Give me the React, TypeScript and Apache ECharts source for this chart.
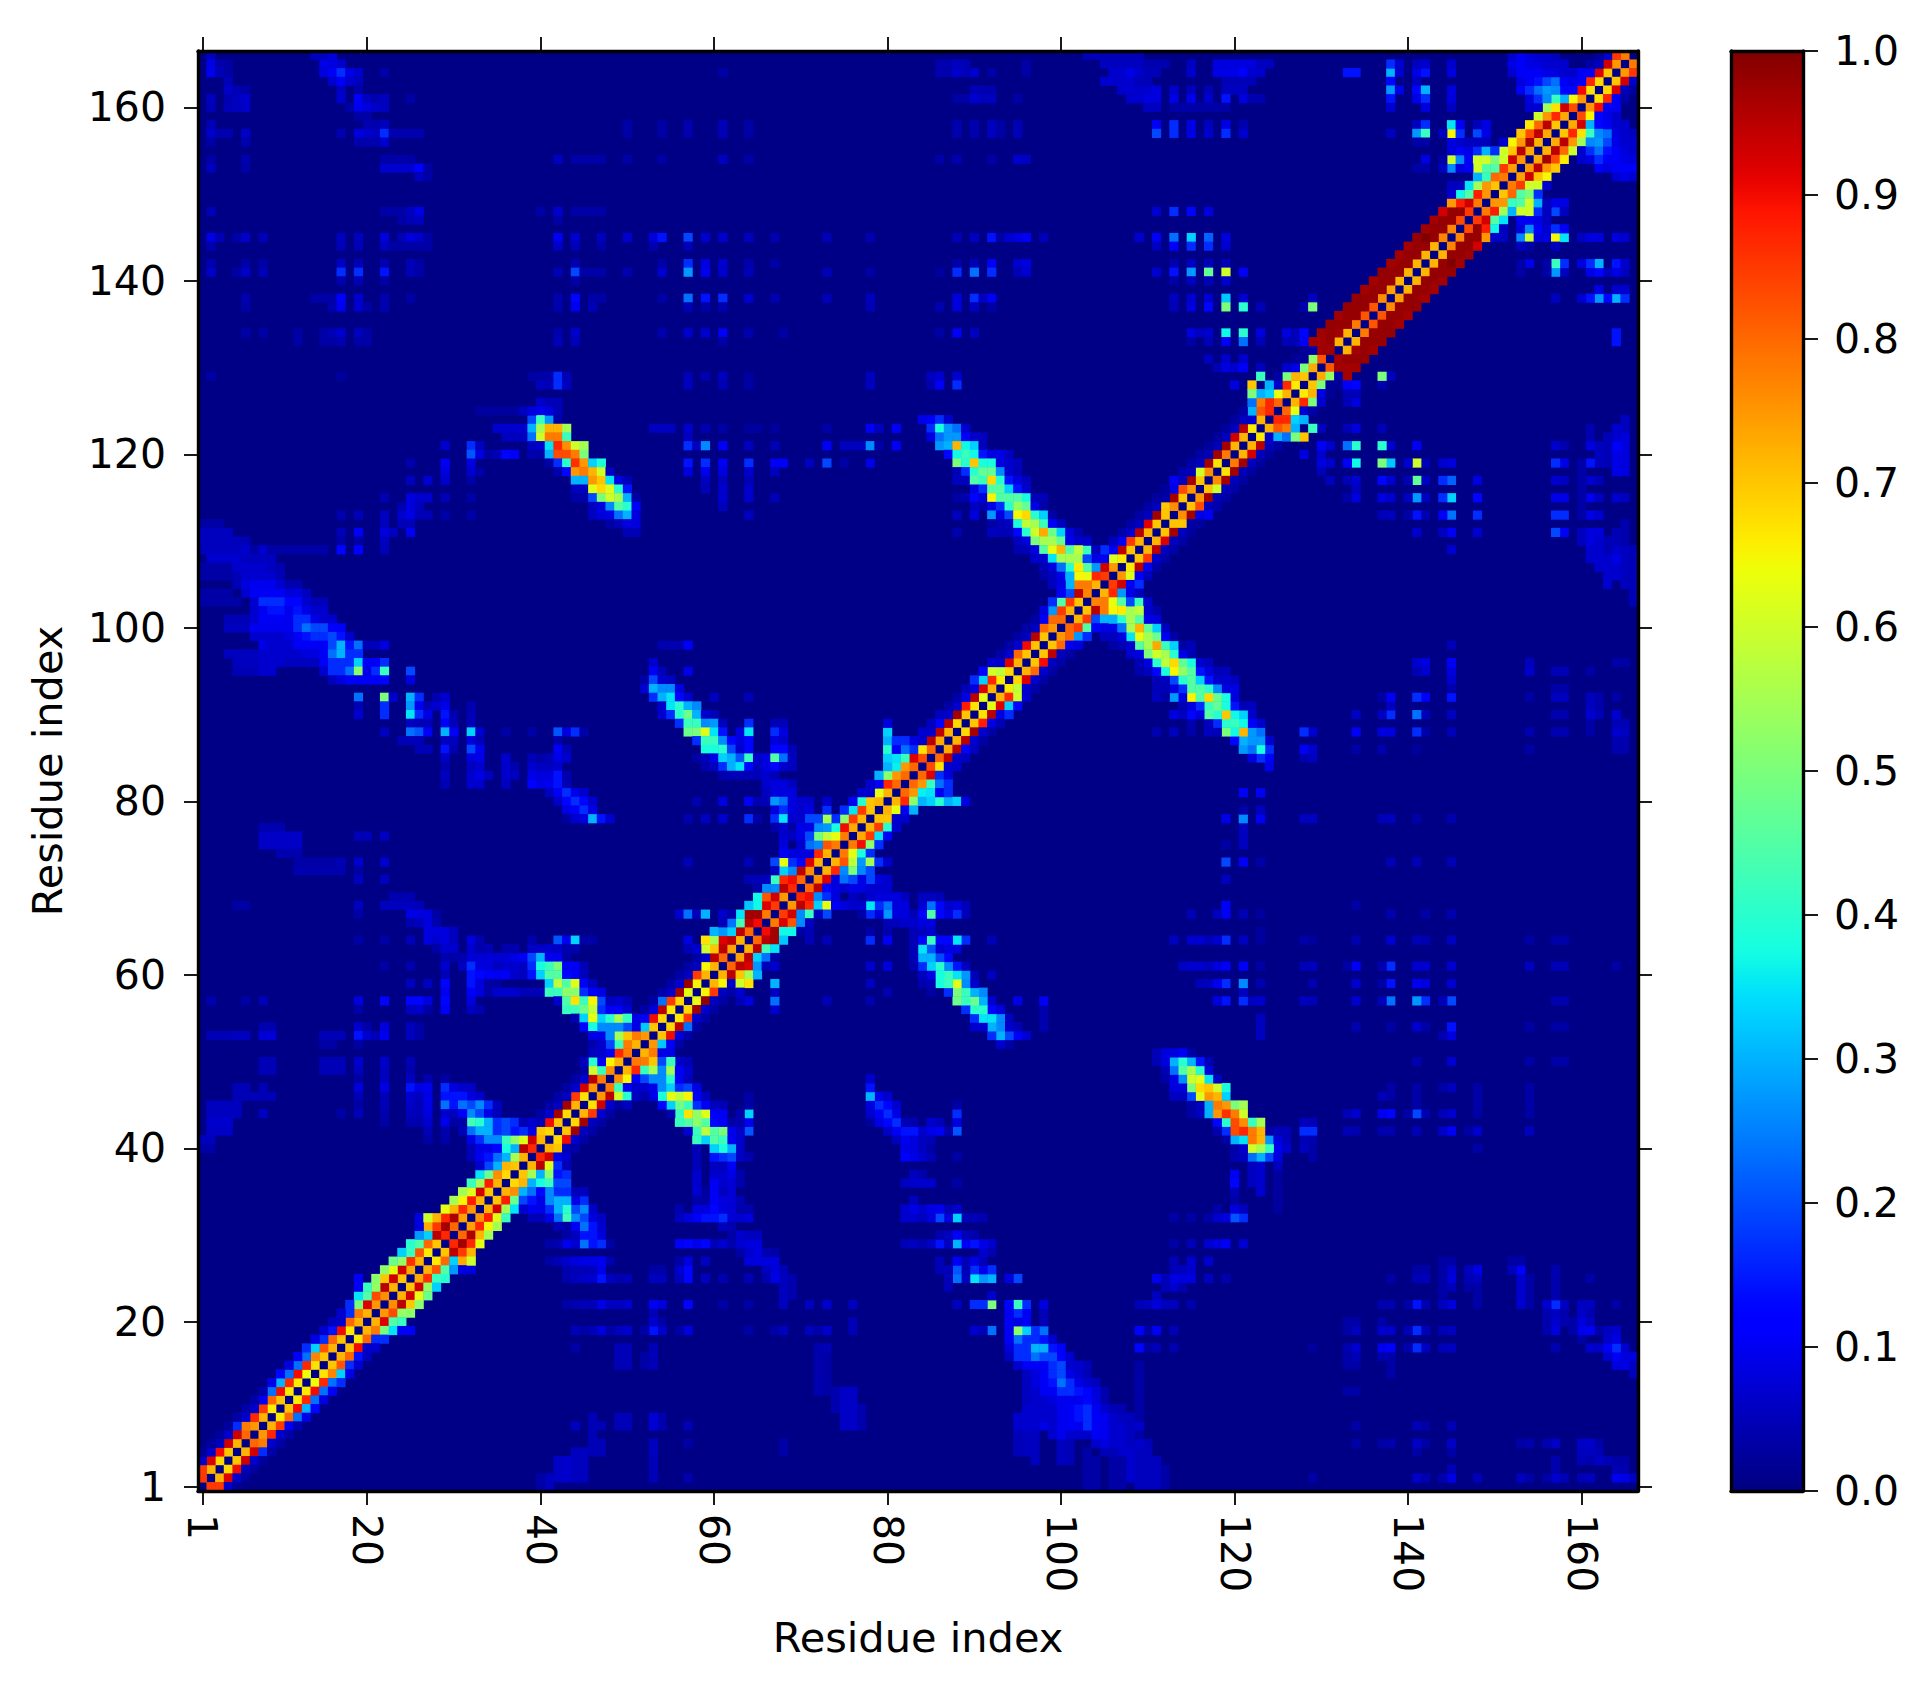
import React, { useEffect, useRef } from "react";
import * as echarts from "echarts";

const N = 166;
const residues = Array.from({ length: N }, (_, i) => String(i + 1));
const tickResidues = [1, 20, 40, 60, 80, 100, 120, 140, 160];
const colorbarTicks = [0, 0.1, 0.2, 0.3, 0.4, 0.5, 0.6, 0.7, 0.8, 0.9, 1];

// contact values one, two, three and four residues off the diagonal, indexed by the lower residue
const offset1 = [
  .85,.72,.68,.7,.72,.8,.75,.72,.66,.7, .66,.66,.64,.67,.7,.72,.7,.66,.72,.72,
  .75,.76,.72,.7,.73,.72,.66,.7,.87,.8, .74,.75,.72,.7,.72,.68,.7,.72,.87,.72,
  .68,.7,.68,.72,.67,.75,.78,.76,.72,.78, .72,.75,.7,.68,.66,.68,.63,.65,.72,.72,
  .8,.74,.72,.8,.9,.78,.85,.75,.87,.8, .76,.72,.72,.78,.78,.73,.72,.7,.72,.72,
  .8,.8,.8,.83,.8,.73,.72,.68,.7,.67, .63,.72,.66,.68,.72,.7,.7,.7,.75,.8,
  .72,.7,.77,.72,.85,.75,.66,.7,.72,.72, .7,.7,.76,.7,.75,.7,.76,.67,.78,.72,
  .72,.66,.72,.87,.8,.72,.66,.7,.73,.82, .97,.72,.72,.78,.82,.82,.76,.74,.72,.72,
  .72,.72,.72,.77,.77,.83,.85,.78,.75,.7, .78,.74,.75,.73,.72,.73,.7,.73,.83,.75,
  .67,.68,.7,.75,.78,
];
const offset2 = [
  .85,.92,.9,.93,.93,.78,.87,.85,.8,.9, .87,.9,.87,.77,.82,.8,.9,.8,.78,.92,
  .83,.95,.93,.93,.86,.82,.8,.95,.97,.96, .87,.88,.93,.88,.76,.72,.55,.95,.93,.7,
  .9,.97,.97,.85,.93,.95,.42,.65,.87,.78, .78,.32,.9,.95,.85,.97,.98,.85,.65,.95,
  .95,.95,.95,.95,.97,.92,.93,.95,.9,.95, .92,.87,.82,.63,.9,.85,.85,.7,.63,.87,
  .75,.75,.92,.67,.95,.95,.95,.97,.88,.95, .92,.87,.58,.92,.8,.9,.95,.8,.8,.85,
  .85,.95,.78,.87,.93,.62,.95,.85,.95,.92, .97,.7,.97,.83,.97,.6,.97,.97,.97,.93,
  .95,.1,.82,.87,.63,.87,.72,.5,.53,.97, .98,.97,.98,.98,.98,.98,.98,.98,.98,.98,
  .98,.98,.98,.98,.98,.98,.93,.88,.75,.8, .85,.93,.95,.97,.95,.95,.87,.93,.65,.9,
  .87,.92,.93,.85,
];
const offset3 = [
  .1,.1,.08,.1,.2,.1,.1,.15,.25,.3, .25,.25,.25,.33,.2,.18,.1,.2,.5,.45,
  .53,.7,.63,.53,.42,.45,.33,.85,.87,.72, .65,.62,.55,.48,.3,.28,.3,.62,.1,.07,
  .1,.08,.08,.1,.1,.6,.15,.15,.42,.7, .13,.15,.12,.25,.1,.1,.08,.08,.1,.7,
  .92,.3,.43,.97,.37,.82,.25,.87,.27,.15, .12,.27,.5,.38,.52,.35,.4,.1,.15,.52,
  .36,.42,.2,.1,.1,.17,.1,.1,.13,.12, .33,.6,.1,.1,.1,.08,.08,.15,.28,.45,
  .22,.78,.62,.25,.15,.15,.15,.1,.08,.08, .08,.05,.13,.08,.07,.08,.07,.07,.08,.08,
  .08,.3,.78,.28,.1,.4,.1,.03,.05,.97, .98,.98,.98,.98,.98,.98,.98,.98,.98,.98,
  .98,1,.98,.98,.98,.88,.42,.55,.42,.45, .6,.7,.75,.83,.8,.75,.67,.3,.17,.15,
  .12,.08,.1,
];
const offset4 = [
  .03,.04,.04,.04,.05,.05,.05,.06,.13,.17, .12,.15,.2,.13,.1,.08,.1,.2,.35,.42,
  .52,.52,.48,.33,.4,.28,.73,.72,.63,.55, .55,.42,.35,.22,.22,.22,.52,.2,.1,.05,
  .05,.05,.05,.05,.05,.35,.1,.2,.55,.22, .13,.05,.05,.05,.05,.05,.05,.05,.6,.55,
  .28,.2,.33,.32,.37,.25,.4,.33,.17,.1, .1,.25,.28,.2,.2,.15,.1,.1,.3,.3,
  .35,.25,.12,.1,.08,.08,.05,.05,.07,.2, .17,.1,.05,.05,.05,.05,.05,.12,.2,.15,
  .3,.65,.45,.13,.2,.08,.05,.05,.05,.05, .04,.04,.15,.06,.05,.05,.04,.04,.04,.04,
  .05,.25,.3,.1,.05,.1,.03,.03,.97,.97, .98,.97,.98,.98,.97,.97,.98,.97,.97,.97,
  .98,.97,.97,.93,.75,.37,.35,.3,.45,.5, .6,.65,.7,.66,.6,.55,.42,.17,.07,.08,
  .05,.04,
];

// every list below holds [row, first column, value, value, ...] for runs of cells left of the diagonal
const helixShoulders = [
  [24,19,.15],[25,19,.15],[31,26,.12],[32,26,.12,.6],[40,36,.38],[41,36,.2],[42,37,.18],
  [52,47,.1,.2],[53,47,.1,.25],[54,47,.25,.27,.27],[55,47,.3,.4,.5],[56,47,.2,.15,.15,.1],[57,47,.2],[58,47,.13],
  [64,59,.67],[65,60,.3],[73,68,.63],[77,72,.2],[78,73,.55],[79,73,.2],[80,73,.1],
  [85,80,.33],[86,80,.4,.15],[87,80,.3,.2,.2],[88,80,.33],[89,80,.12],
  [105,100,.13],[106,100,.13,.3],[107,101,.33,.66],[108,102,.55,.18],[109,103,.42],
  [153,145,.27,.12],[154,145,.6,.27,.13],[155,145,.12,.15,.13],[156,145,.12,.1],[157,145,.65,.18],[158,145,.33,.15],
  [153,148,.6],[154,148,.6,.55],[155,148,.12,.25,.2],[156,151,.1],[157,148,.22],[158,149,.12],
  [160,154,.1,.1],[161,154,.12,.2,.27],[162,155,.2,.25,.27],[163,155,.12,.12,.13],
  [160,145,.08],[161,145,.12],[162,145,.12],
  [162,153,.15,.2,.25,.28,.25,.17,.17],[163,153,.12,.15,.18,.22,.25,.15,.13,.12],[164,152,.1,.15,.15,.15,.13,.12,.1,.1,.15,.15],
  [165,152,.13,.15,.13,.12,.1,.1,.1],[166,152,.1,.15,.12,.1,.1,.08],
];
const stripe41to50 = [
  [125,40,.12],[124,39,.22,.42,.28,.05],[123,35,.1,.1,.1,.1,.3,.55,.72,.72,.55],
  [122,36,.08,.08,.08,.25,.6,.78,.78,.42],[121,39,.08,.1,.35,.87,.76,.6,.55],
  [120,39,.06,.05,.3,.83,.83,.78,.5],[119,41,.05,.2,.4,.86,.75,.33,.38],
  [118,42,.06,.17,.75,.78,.72,.6,.08],[117,44,.3,.3,.75,.7,.35,.12,.07],
  [116,44,.08,.08,.62,.68,.62,.4,.18],[115,44,.05,.05,.22,.5,.6,.55,.3,.05],
  [114,46,.08,.12,.27,.45,.4,.15],[113,46,.08,.12,.13,.25,.3,.12],[112,48,.05,.07,.12,.12],[111,50,.07,.07],
];
const stripe53to62 = [
  [98,54,.06,.06,.06],[98,57,.15],[96,53,.1],[95,53,.15,.07],[95,57,.13],[94,52,.05,.22,.1,.08],
  [93,52,.1,.3,.27,.27,.12],[92,53,.2,.3,.35,.17,.1],[92,60,.08],[92,64,.07],[91,54,.1,.35,.4,.3,.27],
  [90,54,.1,.2,.4,.48,.3,.1,.07],[89,56,.2,.42,.42,.27,.28,.08],[89,64,.2],[89,67,.07,.07],
  [88,57,.48,.5,.62,.35,.18],[88,63,.12,.35],[88,67,.2,.12],[87,58,.2,.42,.42,.27,.17,.12,.17],[87,67,.12,.1],
  [86,59,.38,.38,.4,.22,.1,.17],[86,67,.17,.17,.07],[85,58,.05,.07,.13,.33,.3,.23,.42,.1,.12,.45,.25,.08],
  [84,59,.06,.08,.2,.3,.35,.17,.08,.12,.17,.1,.08],[83,61,.06,.07,.07,.07,.07,.1,.07],[82,66,.1,.12,.12,.08],
  [81,66,.08,.12,.12,.12],[80,58,.06],[80,61,.12],[80,64,.15,.06,.07,.28,.25,.12,.1,.1],[79,67,.12,.2,.12,.1,.12],
  [78,57,.06],[78,59,.08],[78,61,.1],[78,64,.2,.05],[78,67,.2,.35,.1,.1,.22,.22],[77,67,.05,.1,.05,.13,.13,.27,.27],
  [76,68,.1,.08,.13,.22,.5,.58],[75,68,.12],[75,70,.1,.25],[74,68,.15,.12,.12,.12],[73,57,.07],[73,64,.07],
  [73,67,.22,.63,.2,.17],[72,67,.08,.33,.27],[71,64,.07,.07,.08,.42],[70,65,.05,.27,.27],
  [67,56,.1,.25,.08,.3],[67,61,.1,.05,.35],[66,61,.07,.25,.43],[65,61,.25,.33],[64,57,.12],[63,57,.07,.1],
];
const stripe88to102 = [
  [124,84,.13,.15],[124,86,.2,.1],[123,78,.15,.08],[123,81,.15],[123,85,.2,.38,.28,.25,.1],[122,85,.12,.25,.28,.28,.15,.1,.08],
  [121,86,.28,.3,.72,.37,.33,.07],[120,87,.17,.37,.42,.37,.18,.12,.13,.08],[119,88,.5,.4,.7,.38,.38,.12,.1,.08],
  [118,88,.07,.2,.4,.47,.47,.27,.1,.07],[117,88,.08,.08,.45,.42,.68,.4,.18,.12,.08],[116,90,.12,.2,.45,.45,.33,.18,.1],
  [115,88,.05,.06,.17,.12,.65,.45,.45,.45,.38,.07,.07],[114,90,.08,.06,.13,.2,.4,.53,.47,.13,.05],
  [113,88,.08],[113,90,.12],[113,92,.28,.12,.22,.65,.68,.4,.33,.05],[112,92,.05,.07,.08,.38,.58,.55,.42,.15,.08],
  [111,88,.06],[111,92,.08,.07,.07,.17,.4,.6,.73,.48,.33,.12,.06],[110,95,.08,.12,.5,.55,.55,.47,.13,.1,.1],
  [109,95,.06,.07,.12,.45,.63,.72,.45,.58,.42,.08,.18,.1],[108,97,.1,.1,.35,.55,.55,.55,.22,.1,.12],
  [107,98,.07,.12,.25,.4,.65,.4,.28],[106,98,.05,.08,.1,.3,.63,.63],[105,99,.08,.12,.3],
];
const stripe42to47Upper = [
  [88,42,.23,.12,.2,.05],[87,42,.06],[86,42,.15,.07],[85,39,.07,.05,.07,.13,.1],[84,39,.1,.08,.08,.1],
  [83,39,.13,.12,.12,.18,.06],[82,39,.16,.13,.14,.18,.07],[81,41,.08,.15,.2,.13,.1],[80,42,.09,.17,.2,.17,.1],
  [79,43,.13,.15,.2,.13],[78,43,.04,.1,.12,.3,.18,.1],
];
const stripe40to50Mid = [
  [64,42,.23,.14,.33,.05,.05],[63,39,.09,.09,.1,.09,.06,.06],[62,32,.11,.11,.11,.11,.11,.13,.15,.22,.3,.14,.14,.05],
  [61,31,.08,.2,.12,.12,.08,.1,.1,.08,.2,.38,.42,.5,.15,.15,.07],[60,32,.18,.17,.15,.15,.15,.1,.08,.18,.33,.45,.45,.17,.15,.08],
  [59,32,.18,.12,.05,.04],[59,41,.33,.58,.45,.62,.15,.08],[58,32,.15,.12,.05,.1,.1,.1,.07,.07,.07,.42,.42,.52,.52,.2,.15,.1],
  [57,32,.12],[57,42,.1,.45,.67,.42,.65,.22,.08,.1,.07],[56,32,.08,.06],[56,43,.42,.42,.48,.58,.2,.12,.1],
  [55,44,.06,.33,.63,.33,.4,.55,.42,.12,.08],[54,45,.17,.38,.27,.27,.27,.2],[53,46,.13,.13,.27],[52,46,.06],[52,48,.22],
  [51,46,.08,.05,.12],[50,45,.08,.4,.12],[49,45,.05],[46,32,.1,.1],[45,32,.22,.27,.2,.08],[44,32,.27,.22,.13,.07],
  [43,32,.43,.4,.3,.2,.22,.2,.07,.07],[42,32,.25,.3,.3,.2,.22,.17,.07,.13],[41,32,.13,.2,.27,.27,.42,.5,.62],
  [40,32,.07,.13,.13,.17,.25,.3],[39,32,.07,.14,.18,.25,.3],[38,33,.1,.15,.28],
];
const faintBandLower = [
  [112,1,.05,.05,.05],[111,1,.08,.08,.08,.08],[110,1,.08,.08,.08,.08,.08,.07],[109,1,.08,.08,.08,.08,.08,.1,.05,.1,.05,.05,.05,.05,.05,.05,.05],
  [108,2,.1,.1,.1,.1,.08,.08,.08,.08],[107,1,.05,.05,.05,.05,.1,.1,.1,.1,.08,.06],[106,1,.05,.05,.05,.05,.07,.1,.1,.1,.1,.07],
  [105,5,.07,.12,.14,.14,.14,.1,.06,.06],[104,1,.05,.05,.05,.05],[104,6,.1,.15,.15,.15,.15,.12,.12,.08],
  [103,1,.05,.05,.05,.05,.05],[103,7,.1,.2,.2,.2,.17,.17,.1,.07,.07],[102,7,.1,.14,.18,.18,.14,.18,.13,.1,.1],
  [101,4,.07,.07,.07,.1,.15,.15,.15,.14,.2,.2,.13,.1,.1],[100,4,.08,.08,.08,.14,.14,.14,.14,.14,.2,.25,.22,.22,.16,.16],
  [99,7,.1,.1,.1,.1,.12,.15,.18,.2,.2,.22,.18,.1],[98,8,.13,.1,.1,.1,.15,.15,.15,.15,.22,.3,.18,.25,.07,.07,.12],
  [97,4,.08,.08,.08,.08,.1,.1,.1,.1,.1,.12,.12,.15,.25,.3,.2,.2],[96,5,.08,.08,.08,.1,.1,.1,.08,.08,.08,.08,.15,.2,.2,.2,.33,.15,.15,.2],
  [95,5,.07,.07,.07,.1,.1],[95,15,.1,.2,.2,.25,.52,.13,.2,.42],[95,25,.22],[94,16,.08,.12,.15,.15,.15,.15,.17],[94,25,.12],
  [92,19,.25],[92,22,.5,.1],[92,25,.3,.2],[92,28,.06,.1],[91,19,.07],[91,22,.2],[91,25,.28,.14,.07,.1,.13],[91,32,.06],
  [90,19,.1],[90,22,.2],[90,25,.35,.2,.13],[90,29,.18,.06],[90,32,.07],[89,25,.08,.07,.07],[89,29,.15,.07],[89,32,.07],
  [88,22,.08],[88,25,.25,.23,.15],[88,29,.3,.15],[88,32,.33,.1],[88,36,.05],[88,39,.05],
  [87,24,.07,.07,.07],[87,29,.08,.08],[87,32,.12,.07],[86,26,.07,.07],[86,29,.18,.06],[86,32,.22,.14],
  [85,29,.09],[85,32,.12,.13],[85,36,.1],[84,29,.06],[84,32,.08,.1],[84,36,.1,.06],[83,29,.08],[83,32,.1,.13,.08],[83,36,.1,.08],
  [82,29,.07],[82,32,.1,.1],[82,36,.08],
  [77,8,.06,.06,.06],[76,8,.09,.09,.09,.09,.09],[76,19,.07,.07],[76,22,.08],[75,8,.09,.09,.09,.09,.09],[74,10,.06,.06,.06],
  [73,12,.05,.05,.05,.05,.05,.07],[73,19,.1],[73,22,.1],[72,12,.06,.06,.06,.06,.06,.06],[72,19,.05],[71,19,.08],[71,22,.08],
  [69,23,.06,.06,.06],[68,5,.05,.05],[68,19,.08],[68,22,.08,.08,.08,.08,.07],[67,19,.05],[67,25,.13,.12,.12,.05],[66,25,.06,.08,.12,.06],
  [65,27,.12,.12,.12,.08],[64,19,.05],[64,22,.05],[64,25,.07],[64,27,.12,.1,.12,.08],[64,32,.12,.06],[64,39,.06],
  [63,28,.05,.1,.1],[63,32,.1,.06,.07],[63,36,.06,.06],[62,29,.06,.05,.06],[61,22,.05],[61,25,.06],[61,29,.1],[60,29,.07],
  [59,25,.08],[59,27,.08],[59,29,.17],[58,29,.14],[57,2,.06],[57,6,.05],[57,8,.07],[57,19,.12],[57,22,.17],[57,25,.17,.17,.12],[57,29,.17],
  [56,19,.05],[56,25,.08,.1,.05],[56,29,.15],[54,8,.06,.06],[54,19,.1,.05],[54,22,.12],[54,25,.08,.05],
  [53,2,.07,.07,.07,.08,.08],[53,8,.11,.11],[53,15,.07,.07,.07],[53,19,.18,.1,.07,.14],[53,25,.08,.05],[52,15,.05,.05],[52,19,.05],
  [50,8,.07,.07],[50,15,.07,.07,.07],[50,19,.1],[50,22,.1],[50,25,.07],[49,8,.07,.07],[49,15,.07,.07,.07],[49,19,.08],[49,22,.08],[49,25,.06],
  [48,19,.05],[48,22,.08],[48,25,.08],[48,27,.06],[48,29,.05],[47,5,.07,.07],[47,8,.07],[47,19,.12],[47,22,.13],[47,25,.18,.13,.14],[47,29,.2,.12,.1,.09],
  [46,5,.07,.07,.07,.07,.07],[46,19,.07],[46,22,.07],[46,25,.1,.08,.13],[46,29,.18,.18,.18,.12,.08],
  [45,2,.08,.08,.08,.08],[45,19,.05],[45,22,.07],[45,25,.09,.07,.13],[45,29,.25,.18,.25],
  [44,2,.08,.08,.08,.08],[44,8,.08],[44,17,.05],[44,19,.07],[44,22,.06],[44,25,.08,.07,.12],[44,29,.1,.08,.15],
  [43,2,.1,.1,.1],[43,22,.05],[43,25,.06,.06,.1],[43,29,.14,.05,.05],[42,2,.09,.09,.09],[42,27,.07],[42,29,.06],[42,31,.07],[41,1,.08,.08],[41,27,.05],[41,29,.05],[40,1,.05,.05],
];
const scatteredContactsLeft = [
  [121,29,.1],[121,32,.2,.08],[120,32,.23,.12,.05,.07,.17,.15],[119,25,.06],[119,29,.15],[119,32,.12],[118,29,.12],[118,32,.1,.05],
  [117,25,.08],[117,27,.1],[117,29,.1],[117,32,.05],[115,22,.06],[115,25,.12,.1,.1],[115,29,.07],[115,32,.05],[114,24,.06,.12,.08],
  [113,17,.06],[113,19,.07],[113,22,.08],[113,24,.1,.13,.07,.07],[113,29,.05],[113,32,.05],[112,22,.08],[112,24,.07,.07],
  [111,17,.07],[111,19,.15],[111,22,.12,.08],[111,25,.14],[110,17,.05],[110,19,.05],[110,22,.08],[109,17,.17],[109,19,.16],[109,22,.07],
  [166,2,.08],[166,14,.08,.08,.12],[165,2,.13,.06,.05],[165,15,.13,.12,.1],[164,2,.14,.07,.05],[164,15,.12,.15,.2,.13,.1],[164,22,.05],
  [163,4,.07],[163,16,.1,.15,.1,.08],[162,4,.09,.07,.05],[162,17,.09],[162,19,.05],[161,2,.08],[161,4,.06,.08,.1],[161,17,.1],[161,19,.15,.08,.06,.08],[161,25,.05],
  [160,2,.07],[160,4,.07,.08,.09],[160,18,.05,.14,.12,.09,.08],[159,19,.05,.05],[158,2,.07],[158,20,.06,.06,.08],
  [157,2,.1,.06,.06],[157,6,.09],[157,17,.06],[157,19,.12,.1,.08,.2,.06,.06,.06,.06],[156,2,.05],[156,6,.06],[156,19,.06,.06,.06,.1],
  [154,2,.05],[154,6,.06],[154,22,.05,.05,.05,.05],[154,42,.08],[154,44,.05,.05,.05,.05],[153,2,.08],[153,6,.05],[153,22,.1,.1,.1,.1,.16,.05],[152,26,.08,.05],
  [148,2,.07],[148,22,.05,.05,.05,.08,.13],[148,40,.05],[148,42,.1],[148,44,.05,.05,.05,.05],[147,24,.05,.07,.08],[147,42,.05],
  [145,2,.13,.07],[145,5,.05,.09],[145,8,.07],[145,17,.08],[145,19,.08],[145,22,.12],[145,24,.07,.12,.1,.05],[145,42,.15],[145,44,.1],[145,47,.08],
  [144,2,.06],[144,17,.07],[144,19,.07],[144,22,.08,.05,.05,.05,.05,.05],[144,42,.09],[144,44,.07],[144,47,.05],
  [142,2,.06],[142,6,.05],[142,8,.05],[142,17,.08],[142,19,.07],[142,22,.06],[142,25,.07,.05],[142,44,.06],
  [141,2,.09],[141,5,.05,.09],[141,8,.07],[141,17,.2],[141,19,.2],[141,22,.18],[141,25,.07,.05],[141,42,.07],[141,44,.22,.05,.05,.05],
  [140,17,.06],[140,19,.07],[140,22,.05],[140,44,.05],[138,6,.06],[138,14,.05,.05,.05,.16],[138,19,.1],[138,22,.06],[138,25,.05],[138,42,.06],[138,44,.17],[138,46,.05,.05],
  [137,6,.05],[137,16,.06,.14],[137,19,.1,.05],[137,22,.06],[137,42,.06],[137,44,.14],[137,46,.07],
  [134,6,.05],[134,8,.05],[134,12,.05],[134,15,.05,.07,.1],[134,19,.08,.05],[134,42,.06],[134,44,.1],[133,12,.05],[133,15,.05,.05,.06],[133,19,.05,.05],[133,42,.07],[133,44,.07],
  [129,2,.05],[129,17,.04],[129,39,.05,.05,.06,.2,.07],[128,40,.08,.07,.2,.08],[126,40,.1,.07,.07],[125,33,.04,.04,.04,.04,.04,.08,.12,.14,.12,.07],
];
const scatteredContactsMiddle = [
  [165,86,.06,.06,.08,.07],[164,61,.05],[164,86,.06,.06,.1,.07,.1],[164,92,.05],[162,90,.07,.06,.06],[161,88,.05,.05,.1,.08,.08],[161,95,.05],
  [158,50,.05],[158,54,.05],[158,57,.06],[158,61,.07],[158,64,.05],[158,88,.06],[158,90,.06],[158,92,.08,.05],[158,95,.07],
  [157,50,.05],[157,54,.05],[157,57,.06],[157,61,.07],[157,64,.05],[157,88,.06],[157,90,.06],[157,92,.08,.05],[157,95,.07],
  [154,50,.05],[154,54,.05],[154,61,.08],[154,64,.05],[154,86,.05],[154,88,.06],[154,92,.05],[154,95,.1,.08],
  [145,50,.1],[145,53,.12,.18],[145,57,.22],[145,59,.1],[145,61,.1],[145,64,.08],[145,67,.06],[145,73,.07],[145,78,.06],[145,88,.07],[145,90,.08],[145,92,.18,.05,.1,.12,.15],[145,98,.07],
  [144,53,.06],[144,57,.07],
  [142,54,.05],[142,57,.2],[142,59,.12],[142,61,.1],[142,64,.06],[142,67,.05],[142,88,.05],[142,90,.07],[142,92,.15],[142,95,.1,.12],
  [141,50,.06],[141,54,.1],[141,57,.28],[141,59,.14],[141,61,.1],[141,64,.07],[141,73,.07],[141,78,.05],[141,86,.04],[141,88,.2],[141,90,.25],[141,92,.2],[141,95,.07,.1],
  [138,54,.05],[138,57,.25],[138,59,.18],[138,61,.2],[138,64,.1],[138,67,.06],[138,73,.07],[138,78,.08],[138,88,.12],[138,90,.2,.08,.15],
  [137,57,.07],[137,59,.05],[137,61,.06],[137,78,.07],[137,86,.06],[137,88,.12],[137,90,.08],[137,92,.05],
  [134,54,.06],[134,57,.1],[134,59,.1],[134,61,.15],[134,64,.06],[134,68,.05],[134,86,.05],[134,88,.15],[134,90,.08],[133,61,.05],
  [129,57,.07],[129,59,.06],[129,61,.08],[129,64,.04],[129,78,.08],[129,85,.08,.1],[129,88,.1],[128,57,.08],[128,61,.07],[128,64,.05],[128,78,.08],[128,85,.06,.15],[128,88,.2],
  [123,53,.08,.08,.08],[123,57,.1],[123,59,.06],[123,61,.05],[123,64,.04,.04],[123,67,.04],[123,73,.05],
  [122,57,.08],[121,57,.2,.08,.27],[121,61,.15],[121,64,.08],[121,67,.07],[121,73,.15],[121,75,.08,.08,.08,.27,.05],[121,81,.15],
  [119,57,.18],[119,59,.2],[119,61,.15],[119,64,.2],[119,67,.15,.15],[119,71,.08],[119,73,.22],[119,75,.05],[119,78,.13],
  [118,57,.12],[118,59,.14],[118,61,.12],[118,64,.1],[118,67,.08],[117,59,.08],[117,61,.08],[117,64,.07],[116,59,.07],[116,61,.1],[116,64,.1],
  [115,61,.1],[115,64,.1],[115,67,.07],[114,61,.08],[113,64,.08],
];
const scatteredContactsRight = [
  [166,103,.07,.07,.07,.07,.07,.07,.07],[165,96,.05],[165,105,.08,.08,.08,.08,.08,.06,.06,.06],[165,115,.08],[165,118,.12,.12,.12,.12,.12,.08,.08],
  [164,96,.05],[164,106,.1,.1,.13,.1,.07,.07],[164,115,.1],[164,118,.13,.13,.13,.16,.1,.1],[164,133,.18,.18],[164,138,.3,.1],[164,141,.13,.18],[164,145,.12],
  [165,138,.2,.1],[165,141,.08,.1],[165,145,.1],[163,105,.1,.1,.1,.1,.07,.07],[163,119,.07,.07,.07,.07],[163,138,.17],[163,141,.08],
  [162,107,.1,.1,.1,.1,.12],[162,113,.1],[162,115,.08],[162,117,.07],[162,119,.08,.08,.08],[162,138,.28,.13],[162,141,.17,.3],[162,145,.12],
  [161,108,.1,.1,.12,.12],[161,113,.13],[161,115,.14],[161,117,.1],[161,119,.18],[161,121,.12,.06,.06],[161,138,.18],[161,141,.13,.2],[161,145,.1],
  [160,110,.08,.08],[160,113,.05,.05,.05,.05,.05,.05,.05],[160,138,.1],[160,142,.12],[160,145,.08],
  [158,111,.15],[158,113,.2],[158,115,.13],[158,117,.08],[158,119,.13],[158,121,.06],[158,141,.08,.2],[158,145,.35,.13],[158,148,.08,.13],
  [157,111,.22],[157,113,.2],[157,115,.13],[157,117,.1],[157,119,.2],[157,121,.1],[157,138,.08],[157,141,.28,.42],[157,144,.08,.65,.2],[157,148,.2,.13],
  [156,141,.05,.05],[156,145,.12,.1,.08,.08,.08],[155,145,.12,.12,.1,.2,.3,.2],[154,142,.13],[154,144,.05,.55,.27,.15,.58,.6,.5],[153,141,.05,.05],[153,144,.08,.27,.1,.15,.58,.43,.43],
  [151,145,.08,.08,.35],[150,145,.1,.35,.45],
  [148,111,.1],[148,113,.2],[148,115,.17],[148,117,.12],[145,109,.1],[145,111,.15],[145,113,.25],[145,115,.33],[145,117,.24],[145,119,.12],
  [144,111,.08],[144,113,.15],[144,115,.2],[144,117,.2],[144,119,.1],[142,96,.12],[142,113,.06],[142,115,.08],[142,117,.08],[142,119,.07],
  [141,96,.1],[141,111,.1],[141,113,.18],[141,115,.28],[141,117,.47],[141,119,.6],[141,121,.15],[140,113,.05],[140,115,.08],[140,117,.07],[140,119,.1],
  [138,113,.08],[138,115,.1],[138,117,.1],[138,119,.32],[138,121,.1],[138,129,.08],[137,113,.07],[137,115,.12],[137,117,.17],[137,119,.5],[137,121,.4],[137,123,.07],[137,128,.06,.5],
  [134,115,.12,.08,.1],[134,119,.37],[134,121,.4],[134,123,.12],[134,126,.12,.07,.17],[133,115,.05],[133,117,.07],[133,119,.15],[133,121,.25],[133,123,.07],[133,126,.07,.07,.15],
  [131,117,.08],[131,119,.1],[131,121,.1],[130,118,.07,.12,.1,.15],[130,123,.08],[130,126,.1,.13],
  [129,123,.42],[129,126,.5],[128,120,.12],[128,122,.7],[128,124,.3],[127,122,.5],[127,124,.33],
];

const contactLists = [helixShoulders, stripe41to50, stripe53to62, stripe88to102, stripe42to47Upper, stripe40to50Mid, faintBandLower, scatteredContactsLeft, scatteredContactsMiddle, scatteredContactsRight];
const offsetBands = [offset1, offset2, offset3, offset4];

// my readings of very dim blues ran high against the colour bar, so they are brought down here
const calibrate = (v: number) => (v >= 0.3 ? v : v <= 0.15 ? v * 0.68 : 0.102 + ((v - 0.15) * (0.3 - 0.102)) / 0.15);

function buildCells() {
  const cells = new Map<string, number>();
  const put = (a: number, b: number, v: number) => {
    const key = `${a},${b}`;
    cells.set(key, Math.max(cells.get(key) ?? 0, v));
  };
  offsetBands.forEach((band, b) => band.forEach((v, i) => put(i + 1, i + 2 + b, v)));
  contactLists.forEach((list) =>
    list.forEach(([row, col, ...values]) => values.forEach((v, k) => put(col + k, row, v)))
  );
  const out: number[][] = [];
  cells.forEach((v, key) => {
    const [a, b] = key.split(",").map(Number);
    const shown = calibrate(v);
    out.push([a - 1, b - 1, shown], [b - 1, a - 1, shown]);
  });
  return out;
}

const jetStops = Array.from({ length: 65 }, (_, k) => {
  const t = k / 64;
  const seg = (pts: number[][]) => {
    for (let i = 1; i < pts.length; i++) {
      if (t <= pts[i][0]) {
        const [x0, y0] = pts[i - 1];
        const [x1, y1] = pts[i];
        return y0 + ((y1 - y0) * (t - x0)) / (x1 - x0);
      }
    }
    return pts[pts.length - 1][1];
  };
  const r = seg([[0, 0], [0.35, 0], [0.66, 1], [0.89, 1], [1, 0.5]]);
  const g = seg([[0, 0], [0.125, 0], [0.375, 1], [0.64, 1], [0.91, 0], [1, 0]]);
  const b = seg([[0, 0.5], [0.11, 1], [0.34, 1], [0.65, 0], [1, 0]]);
  return `rgb(${Math.round(r * 255)},${Math.round(g * 255)},${Math.round(b * 255)})`;
});

const FONT = "DejaVu Sans";
const FS = 41;
const showTick = (i: number) => tickResidues.includes(i + 1);

function categoryAxis(extra: any, label: any) {
  return {
    type: "category",
    data: residues,
    z: 6,
    axisLine: { show: true, onZero: false, lineStyle: { color: "#000", width: 3.4 } },
    axisTick: { show: true, alignWithLabel: true, interval: showTick, length: 14, lineStyle: { color: "#000", width: 1.8 } },
    axisLabel: label
      ? { show: true, interval: showTick, color: "#000", fontFamily: FONT, fontSize: FS, hideOverlap: false, ...label }
      : { show: false },
    splitLine: { show: false },
    splitArea: { show: false },
    nameTextStyle: { color: "#000", fontFamily: FONT, fontSize: 41.5 },
    ...extra,
  };
}

export default function App() {
  const ref = useRef<HTMLDivElement>(null);
  useEffect(() => {
    document.body.style.margin = "0";
    const chart = echarts.init(ref.current!, undefined, { renderer: "svg" });
    const ends = [["1", "1"], ["166", "166"]];
    const line = { show: true, onZero: false, lineStyle: { color: "#000", width: 3.4 } };
    chart.setOption({
      animation: false,
      backgroundColor: "#fff",
      grid: [
        { left: 198, top: 51, width: 1440, height: 1440, show: true, backgroundColor: "#000086", borderWidth: 0 },
        { left: 1731, top: 51, width: 72, height: 1440, show: false },
      ],
      xAxis: [
        categoryAxis({ gridIndex: 0, position: "bottom", name: "Residue index", nameLocation: "middle", nameGap: 125 }, { rotate: -90, margin: 23, padding: [0, 0, 12, 0] }),
        categoryAxis({ gridIndex: 0, position: "top" }, null),
        { type: "value", gridIndex: 1, min: 0, max: 1, position: "bottom", z: 6, axisLine: line, axisTick: { show: false }, axisLabel: { show: false }, splitLine: { show: false } },
        { type: "value", gridIndex: 1, min: 0, max: 1, position: "top", z: 6, axisLine: line, axisTick: { show: false }, axisLabel: { show: false }, splitLine: { show: false } },
      ],
      yAxis: [
        categoryAxis({ gridIndex: 0, position: "left", name: "Residue index", nameLocation: "middle", nameGap: 130 }, { margin: 32, padding: [0, 0, 5, 0] }),
        categoryAxis({ gridIndex: 0, position: "right" }, null),
        { type: "value", gridIndex: 1, min: 0, max: 1, position: "left", z: 6, axisLine: line, axisTick: { show: false }, axisLabel: { show: false }, splitLine: { show: false } },
        { type: "value", gridIndex: 1, min: 0, max: 1, interval: 0.1, position: "right", z: 6,
          axisLine: line,
          axisTick: { show: true, length: 15, lineStyle: { color: "#000", width: 1.8 } },
          axisLabel: { show: true, color: "#000", fontFamily: FONT, fontSize: FS, margin: 31, padding: [0, 0, 5, 0], formatter: (v: number) => (colorbarTicks.some((t) => Math.abs(t - v) < 1e-6) ? v.toFixed(1) : "") },
          splitLine: { show: false } },
      ],
      visualMap: {
        type: "continuous", min: 0, max: 1, seriesIndex: 0, calculable: false, hoverLink: false,
        left: 1731, top: 51, itemWidth: 72, itemHeight: 1440, padding: 0,
        inRange: { color: jetStops }, textStyle: { fontSize: 0 },
      },
      series: [
        { type: "heatmap", xAxisIndex: 0, yAxisIndex: 0, data: buildCells(), progressive: 0, silent: true, itemStyle: { borderWidth: 0 } },
        { type: "scatter", xAxisIndex: 1, yAxisIndex: 1, data: ends, symbolSize: 0, silent: true },
      ],
    });
    return () => chart.dispose();
  }, []);
  return <div ref={ref} style={{ position: "absolute", left: 0, top: 0, width: 1927, height: 1689 }} />;
}
